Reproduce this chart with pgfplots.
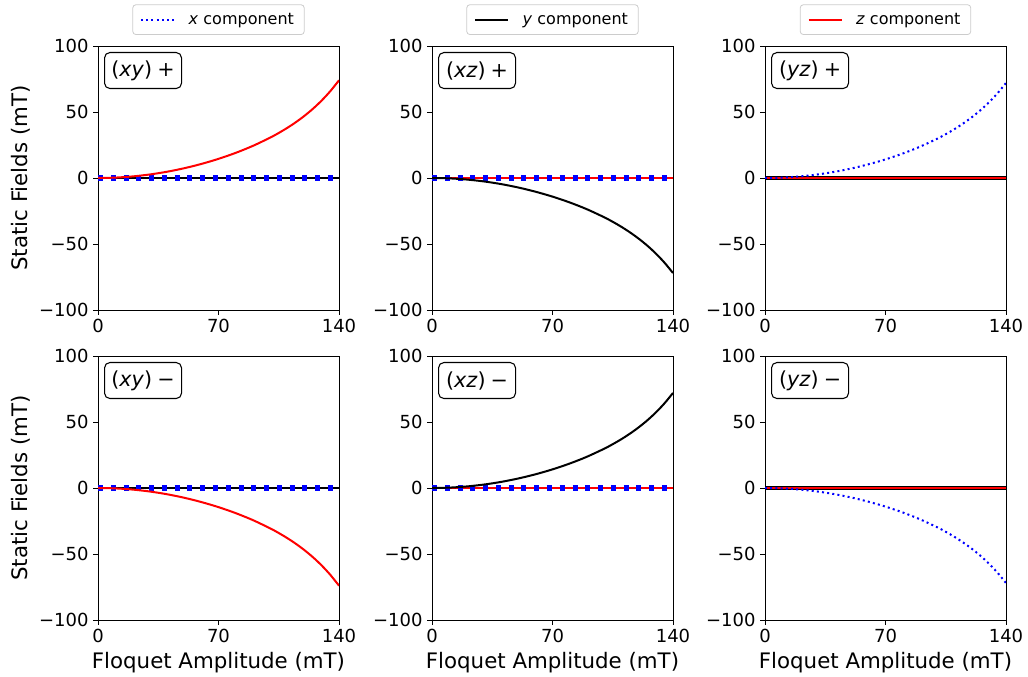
\documentclass[border=0pt]{standalone}
\usepackage{fontspec}
\setmainfont{DejaVu Sans}
\usepackage{pgfplots}
\usepackage{pgfplotstable}
\pgfplotsset{compat=1.18}

% Static field components versus Floquet amplitude, one column per panel
\pgfplotstableread{
x    xyp    xzp     yzp    xym     xzm    yzm
0    0.00   0.00    0.00   0.00    0.00   0.00
10   0.29   -0.28   0.28   -0.29   0.28   -0.28
20   1.18   -1.15   1.15   -1.18   1.15   -1.15
30   2.65   -2.58   2.58   -2.65   2.58   -2.58
40   4.71   -4.58   4.58   -4.71   4.58   -4.58
50   7.37   -7.17   7.17   -7.37   7.17   -7.17
60   10.63  -10.34  10.34  -10.63  10.34  -10.34
70   14.50  -14.11  14.11  -14.50  14.11  -14.11
80   19.04  -18.53  18.53  -19.04  18.53  -18.53
90   24.34  -23.68  23.68  -24.34  23.68  -23.68
100  30.57  -29.74  29.74  -30.57  29.74  -29.74
105  34.11  -33.19  33.19  -34.11  33.19  -33.19
110  38.01  -36.98  36.98  -38.01  36.98  -36.98
115  42.33  -41.19  41.19  -42.33  41.19  -41.19
120  47.16  -45.89  45.89  -47.16  45.89  -45.89
125  52.60  -51.18  51.18  -52.60  51.18  -51.18
130  58.78  -57.19  57.19  -58.78  57.19  -57.19
135  65.85  -64.07  64.07  -65.85  64.07  -64.07
140  74.00  -72.00  72.00  -74.00  72.00  -72.00
}\fields

\definecolor{mplblue}{RGB}{0,0,255}
\definecolor{mplred}{RGB}{255,0,0}

\newcommand\tickfont{\fontsize{13.5}{16}\selectfont}
\newcommand\labelfont{\fontsize{16}{19}\selectfont}

\tikzset{
  xcomp/.style={mplblue, line width=1.5pt, dash pattern=on 1.5pt off 2.4pt},
  xzero/.style={mplblue, line width=3.8pt, dash pattern=on 3.8pt off 5.78pt},
  ycomp/.style={black, line width=1.5pt},
  ythick/.style={black, line width=3.5pt},
  zcomp/.style={mplred, line width=1.5pt},
  tag/.style={draw=black, line width=0.8pt, rounded corners=4pt, fill=white,
    minimum width=57.75pt, minimum height=27pt, inner sep=0pt,
    anchor=north west, xshift=4.5pt, yshift=-4.5pt,
    font=\fontsize{15.5}{18}\selectfont},
}

\pgfplotsset{
  panel/.style={
    scale only axis, width=180.75pt, height=198pt,
    anchor=south west,
    xmin=0, xmax=140, ymin=-100, ymax=100,
    xtick={0,70,140}, xticklabels={0,70,140},
    ytick={-100,-50,0,50,100}, yticklabels={−100,−50,0,50,100},
    tick align=outside, tick pos=left,
    major tick length=3.6pt,
    tick style={black, line width=0.6pt},
    axis line style={black, line width=0.6pt},
    tick label style={font=\tickfont},
    label style={font=\labelfont},
    /pgf/number format/assume math mode=true,
    clip mode=individual,
    legend image code/.code={\draw[#1] (0pt,0pt) -- (24.75pt,0pt);},
    legend style={at={(0.5,1)}, anchor=south, yshift=8.25pt,
      draw=black!20, rounded corners=2.5pt, line width=0.6pt,
      font=\fontsize{12}{14}\selectfont,
      inner xsep=5.5pt, inner ysep=4pt,
      nodes={inner sep=2.25pt},
      /tikz/every odd column/.append style={column sep=8pt}},
  },
}

\begin{document}
\begin{tikzpicture}
\path[use as bounding box] (0,0) rectangle (771pt,507.75pt);

% ---- top row ----
\begin{axis}[panel, at={(73.5pt,275.25pt)}, ylabel={Static Fields (mT)}]
  \addplot[ycomp, forget plot] coordinates {(0,0) (140,0)};
  \addplot[xzero, forget plot] coordinates {(0,0) (140,0)};
  \addplot[zcomp, smooth, forget plot] table[x=x, y=xyp] {\fields};
  \addlegendimage{xcomp}
  \addlegendentry{\textit{x} component}
  \node[tag] at (rel axis cs:0,1) {(\textit{xy})\hspace{0.25em}+};
\end{axis}

\begin{axis}[panel, at={(324pt,275.25pt)}]
  \addplot[zcomp, forget plot] coordinates {(0,0) (140,0)};
  \addplot[xzero, forget plot] coordinates {(0,0) (140,0)};
  \addplot[ycomp, smooth, forget plot] table[x=x, y=xzp] {\fields};
  \addlegendimage{ycomp}
  \addlegendentry{\textit{y} component}
  \node[tag] at (rel axis cs:0,1) {(\textit{xz})\hspace{0.25em}+};
\end{axis}

\begin{axis}[panel, at={(573.75pt,275.25pt)}]
  \addplot[ythick, forget plot] coordinates {(0,0) (140,0)};
  \addplot[zcomp, forget plot] coordinates {(0,0) (140,0)};
  \addplot[xcomp, smooth, forget plot] table[x=x, y=yzp] {\fields};
  \addlegendimage{zcomp}
  \addlegendentry{\textit{z} component}
  \node[tag] at (rel axis cs:0,1) {(\textit{yz})\hspace{0.25em}+};
\end{axis}

% ---- bottom row ----
\begin{axis}[panel, at={(73.5pt,42.75pt)}, ylabel={Static Fields (mT)},
  xlabel={Floquet Amplitude (mT)}]
  \addplot[ycomp] coordinates {(0,0) (140,0)};
  \addplot[xzero] coordinates {(0,0) (140,0)};
  \addplot[zcomp, smooth] table[x=x, y=xym] {\fields};
  \node[tag] at (rel axis cs:0,1) {(\textit{xy})\hspace{0.25em}−};
\end{axis}

\begin{axis}[panel, at={(324pt,42.75pt)}, xlabel={Floquet Amplitude (mT)}]
  \addplot[zcomp] coordinates {(0,0) (140,0)};
  \addplot[xzero] coordinates {(0,0) (140,0)};
  \addplot[ycomp, smooth] table[x=x, y=xzm] {\fields};
  \node[tag] at (rel axis cs:0,1) {(\textit{xz})\hspace{0.25em}−};
\end{axis}

\begin{axis}[panel, at={(573.75pt,42.75pt)}, xlabel={Floquet Amplitude (mT)}]
  \addplot[ythick] coordinates {(0,0) (140,0)};
  \addplot[zcomp] coordinates {(0,0) (140,0)};
  \addplot[xcomp, smooth] table[x=x, y=yzm] {\fields};
  \node[tag] at (rel axis cs:0,1) {(\textit{yz})\hspace{0.25em}−};
\end{axis}
\end{tikzpicture}
\end{document}
